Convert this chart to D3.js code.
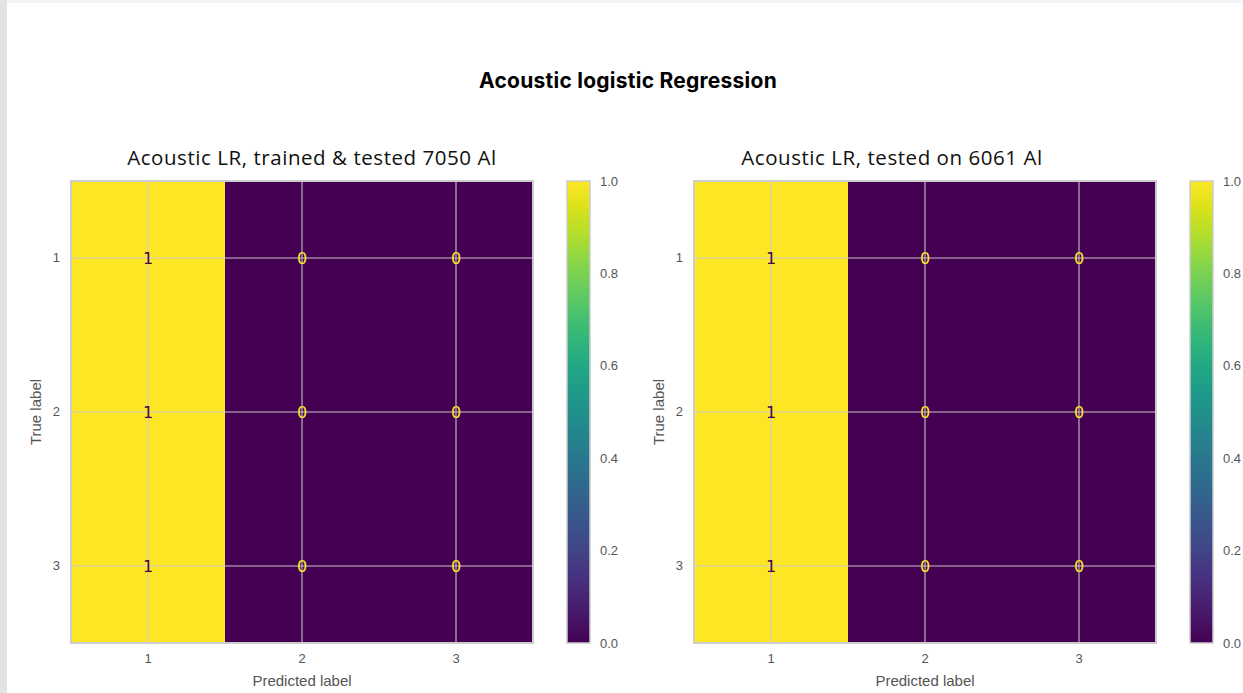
<!DOCTYPE html>
<html>
<head>
<meta charset="utf-8">
<script src="https://cdn.jsdelivr.net/npm/d3@7"></script>
<style>
	html, body { margin: 0; padding: 0; background: #ffffff; }
	svg { display: block; }
</style>
</head>
<body>
<div id="chart"></div>
<script>

const classes = ['1', '2', '3'];
const matrixTrained = [[1, 0, 0], [1, 0, 0], [1, 0, 0]];
const matrixTested = [[1, 0, 0], [1, 0, 0], [1, 0, 0]];
const panelTitles = ['Acoustic LR, trained & tested 7050 Al', 'Acoustic LR, tested on 6061 Al'];
const colorbarTicks = [0.0, 0.2, 0.4, 0.6, 0.8, 1.0];
const mainTitle = 'Acoustic logistic Regression';

const width = 1243;
const height = 693;

const svg = d3.select('#chart')
	.append('svg')
	.attr('width', width)
	.attr('height', height);

// page edges (screenshot frame)
svg.append('rect').attr('x', 0).attr('y', 0).attr('width', width).attr('height', 3).attr('fill', '#f3f4f8');
svg.append('rect').attr('x', 0).attr('y', 0).attr('width', 7).attr('height', height).attr('fill', '#e2e2e4');

svg.append('text')
	.attr('x', 628)
	.attr('y', 88)
	.attr('text-anchor', 'middle')
	.attr('font-family', 'Inter, Roboto, sans-serif')
	.attr('font-weight', 700)
	.attr('font-size', 21)
	.attr('letter-spacing', 0.25)
	.attr('fill', '#000')
	.text(mainTitle);

const viridis = d3.scaleSequential(d3.interpolateViridis).domain([0, 1]);

const defs = svg.append('defs');
const grad = defs.append('linearGradient')
	.attr('id', 'viridis')
	.attr('x1', 0).attr('y1', 1)
	.attr('x2', 0).attr('y2', 0);
d3.range(0, 1.0001, 0.05).forEach(t => {
	grad.append('stop').attr('offset', t).attr('stop-color', viridis(t));
});

const panels = [
	{ data: matrixTrained, title: panelTitles[0], x0: 71, titleX: 312 },
	{ data: matrixTested, title: panelTitles[1], x0: 694, titleX: 892 },
];

const size = 462;
const y0 = 181;
const tickFont = 'Liberation Sans, Arial, sans-serif';
const tickColor = '#555555';

panels.forEach(p => {
	const g = svg.append('g').attr('transform', `translate(${p.x0},${y0})`);

	const x = d3.scaleBand().domain(classes).range([0, size]);
	const y = d3.scaleBand().domain(classes).range([0, size]);

	const cells = [];
	p.data.forEach((row, i) => row.forEach((v, j) => cells.push({ row: classes[i], col: classes[j], v: v })));

	g.selectAll('rect.cell')
		.data(cells)
		.enter()
		.append('rect')
		.attr('class', 'cell')
		.attr('x', d => x(d.col))
		.attr('y', d => y(d.row))
		.attr('width', x.bandwidth() + 0.5)
		.attr('height', y.bandwidth() + 0.5)
		.attr('fill', d => viridis(d.v));

	// grid lines at cell centres
	g.selectAll('line.gx')
		.data(classes)
		.enter()
		.append('line')
		.attr('x1', d => x(d) + x.bandwidth() / 2)
		.attr('x2', d => x(d) + x.bandwidth() / 2)
		.attr('y1', 0)
		.attr('y2', size)
		.attr('stroke', '#cccccc')
		.attr('stroke-opacity', 0.65)
		.attr('stroke-width', 1.6);
	g.selectAll('line.gy')
		.data(classes)
		.enter()
		.append('line')
		.attr('y1', d => y(d) + y.bandwidth() / 2)
		.attr('y2', d => y(d) + y.bandwidth() / 2)
		.attr('x1', 0)
		.attr('x2', size)
		.attr('stroke', '#cccccc')
		.attr('stroke-opacity', 0.65)
		.attr('stroke-width', 1.6);

	g.selectAll('text.val')
		.data(cells)
		.enter()
		.append('text')
		.attr('x', d => x(d.col) + x.bandwidth() / 2)
		.attr('y', d => y(d.row) + y.bandwidth() / 2)
		.attr('dy', '0.36em')
		.attr('text-anchor', 'middle')
		.attr('font-family', 'DejaVu Sans, sans-serif')
		.attr('font-size', 16)
		.attr('fill', d => d.v > 0.5 ? viridis(0) : viridis(1))
		.text(d => d.v);

	g.append('rect')
		.attr('width', size)
		.attr('height', size)
		.attr('fill', 'none')
		.attr('stroke', '#cccccc')
		.attr('stroke-width', 2);

	const xAxis = g.append('g')
		.attr('transform', `translate(0,${size})`)
		.call(d3.axisBottom(x).tickSize(0).tickPadding(11));
	const yAxis = g.append('g')
		.call(d3.axisLeft(y).tickSize(0).tickPadding(11));
	[xAxis, yAxis].forEach(a => {
		a.select('.domain').remove();
		a.selectAll('text')
			.attr('font-family', tickFont)
			.attr('font-size', 13)
			.attr('fill', tickColor);
	});

	g.append('text')
		.attr('x', size / 2)
		.attr('y', size + 43)
		.attr('text-anchor', 'middle')
		.attr('font-family', tickFont)
		.attr('font-size', 15)
		.attr('fill', tickColor)
		.text('Predicted label');

	g.append('text')
		.attr('transform', `translate(-35,${size / 2}) rotate(-90)`)
		.attr('text-anchor', 'middle')
		.attr('dy', '0.35em')
		.attr('font-family', tickFont)
		.attr('font-size', 15)
		.attr('fill', tickColor)
		.text('True label');

	svg.append('text')
		.attr('x', p.titleX)
		.attr('y', 165)
		.attr('text-anchor', 'middle')
		.attr('font-family', 'Open Sans, Noto Sans, sans-serif')
		.attr('font-size', 20.5)
		.attr('letter-spacing', 0.55)
		.attr('fill', '#111')
		.text(p.title);

	// colorbar
	const cb = g.append('g').attr('transform', `translate(${496},0)`);
	const cy = d3.scaleLinear().domain([0, 1]).range([size, 0]);
	cb.append('rect')
		.attr('width', 23)
		.attr('height', size)
		.attr('fill', 'url(#viridis)')
		.attr('stroke', '#cccccc')
		.attr('stroke-width', 1.5);
	const cbAxis = cb.append('g')
		.attr('transform', 'translate(23,0)')
		.call(d3.axisRight(cy).tickValues(colorbarTicks).tickFormat(d3.format('.1f')).tickSize(0).tickPadding(10));
	cbAxis.select('.domain').remove();
	cbAxis.selectAll('text')
		.attr('font-family', tickFont)
		.attr('font-size', 13)
		.attr('fill', tickColor);
});

</script>
</body>
</html>
